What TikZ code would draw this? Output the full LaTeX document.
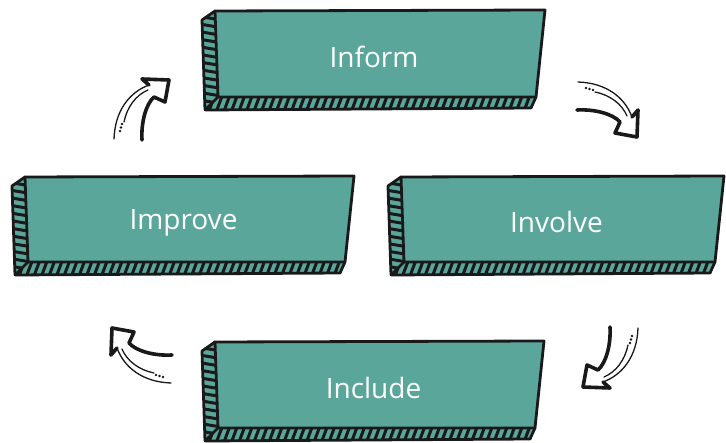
\documentclass[tikz,border=0pt]{standalone}
\usepackage{fontspec}
\setmainfont{Open Sans}
\usetikzlibrary{calc}
\definecolor{tealbg}{RGB}{90,166,155}
\definecolor{ink}{RGB}{25,25,25}
\tikzset{
  outline/.style={draw=ink, line width=2.8pt, line join=round, line cap=round},
  hatchline/.style={draw=ink, line width=3pt},
  lbl/.style={text=white, font=\fontsize{28}{30}\selectfont},
  thinline/.style={draw=ink, line width=1.3pt, line cap=round},
  thickline/.style={draw=ink, line width=3.6pt, line cap=round, line join=round},
  cyc arrow/.pic={
    \draw[thinline] (-29,-28) .. controls (0,-27) and (18,-12) .. (25,7);
    \draw[thinline] (-12,-18) .. controls (3,-15) and (15,-6) .. (20,6);
    \fill[ink] (-21,-22) circle (1.3) (-17.5,-21) circle (1.3) (-14,-20) circle (1.3);
    \draw[thickline] (-30,0) .. controls (-12,-1) and (6,4) .. (13,12) -- (8,23) -- (30,27) -- (31,0) -- (25,7);
  }
}
\newcommand\tealbox[6]{%
  \coordinate (#1-A) at (#2,#3);
  \coordinate (#1-B) at (#4,#3-1);
  \coordinate (#1-C) at (#4-9,#5);
  \coordinate (#1-D) at (#2+3,#5);
  \coordinate (#1-E) at (#2-13,#3+9);
  \coordinate (#1-F) at (#2-10,#5+13);
  \coordinate (#1-G) at (#4-14,#5+11);
  \fill[tealbg] (#1-A) -- (#1-D) -- (#1-F) -- (#1-E) -- cycle;
  \fill[tealbg] (#1-D) -- (#1-C) -- (#1-G) -- (#1-F) -- cycle;
  \begin{scope}
    \clip (#1-A) -- (#1-D) -- (#1-F) -- (#1-E) -- cycle;
    \foreach \k in {0,...,13} {\draw[hatchline] (#2-18,#3+5+\k*7.6) -- ++(24,4);}
  \end{scope}
  \begin{scope}
    \clip (#1-D) -- (#1-C) -- (#1-G) -- (#1-F) -- cycle;
    \foreach \k in {-1,...,46} {\draw[hatchline] (#2+\k*7.5,#5-2) -- ++(-6,16);}
  \end{scope}
  \fill[tealbg] (#1-A) -- (#1-B) -- (#1-C) -- (#1-D) -- cycle;
  \draw[outline] (#1-A) -- (#1-B) -- (#1-C) -- (#1-D) -- cycle;
  \draw[outline] (#1-A) -- (#1-E) -- (#1-F) -- (#1-G) -- (#1-C);
  \draw[outline] (#1-D) -- (#1-F);
  \node[lbl] (#1) at ({(#2+#4)/2-6},{(#3+#5)/2+3}) {#6};
}
\begin{document}
\begin{tikzpicture}[x=1pt,y=-1pt]
  \useasboundingbox[fill=white] (0,0) rectangle (726,443);
  \tealbox{inform}{215}{11}{545}{97}{Inform}
  \tealbox{improve}{25}{177}{354}{262}{Improve}
  \tealbox{involve}{401}{177}{724}{262}{Involve}
  \tealbox{include}{215}{342}{544}{428}{Include}
  \pic (a1) at (607,110) {cyc arrow};
  \pic[rotate=-90] (a2) at (610,357) {cyc arrow};
  \pic[rotate=180] (a3) at (142,355) {cyc arrow};
  \pic[rotate=90] (a4) at (142,110) {cyc arrow};
\end{tikzpicture}
\end{document}
